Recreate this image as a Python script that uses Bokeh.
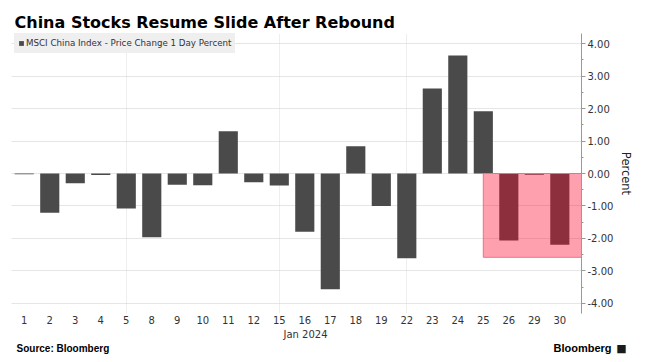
from bokeh.plotting import figure
from bokeh.layouts import column
from bokeh.models import (Range1d, FixedTicker, SingleIntervalTicker, NumeralTickFormatter,
                          Label, Legend, LegendItem, ColumnDataSource, Title)
from bokeh.embed import file_html
from bokeh.resources import INLINE

# ---- data ----
days = ["1", "2", "3", "4", "5", "8", "9", "10", "11", "12", "15", "16", "17", "18",
        "19", "22", "23", "24", "25", "26", "29", "30"]
values = [-0.02, -1.21, -0.30, -0.05, -1.08, -1.96, -0.35, -0.36, 1.30, -0.27, -0.37,
          -1.79, -3.56, 0.84, -1.00, -2.61, 2.62, 3.63, 1.92, -2.06, -0.04, -2.19]
grid_days = ["5", "15", "22"]
highlight_from = "25"
highlight_low = -2.58
series_name = "MSCI China Index - Price Change 1 Day Percent"
title_text = "China Stocks Resume Slide After Rebound"
month_label = "Jan 2024"
source_text = "Source: Bloomberg"
brand_text = "Bloomberg"

idx = list(range(len(days)))
src = ColumnDataSource(dict(x=idx, top=values))

W = 639
X_END = 21.85
p = figure(width=W, height=341, x_range=Range1d(-0.5, X_END), y_range=Range1d(-4.31, 4.31),
           output_backend="svg", toolbar_location=None, y_axis_location="right",
           min_border_left=11, min_border_right=58, min_border_top=33, min_border_bottom=28)
p.outline_line_color = None
p.background_fill_color = "white"

bars = p.vbar(x="x", top="top", bottom=0, width=0.75, source=src,
              fill_color="#4a4a4a", line_color=None)

# highlight box
hx = days.index(highlight_from)
p.quad(left=[hx], right=[X_END], bottom=[highlight_low], top=[0],
       fill_color="#ff062a", fill_alpha=0.38, line_color="#ee7088", line_width=1)

# x axis
xa = p.xaxis[0]
xa.ticker = FixedTicker(ticks=idx)
xa.major_label_overrides = {i: d for i, d in enumerate(days)}
xa.axis_line_color = None
xa.major_tick_line_color = None
xa.minor_tick_line_color = None
xa.major_tick_out = 0
xa.major_tick_in = 0
xa.minor_tick_out = 0
xa.major_label_standoff = 2
xa.major_label_text_font = "DejaVu Sans"
xa.major_label_text_font_size = "10px"
xa.major_label_text_color = "#333333"

# y axis
ya = p.yaxis[0]
ya.ticker = SingleIntervalTicker(interval=1, num_minor_ticks=2)
ya.formatter = NumeralTickFormatter(format="0.00")
ya.axis_line_color = "#999999"
ya.major_tick_line_color = "#999999"
ya.minor_tick_line_color = "#999999"
ya.major_tick_out = 4
ya.major_tick_in = 0
ya.minor_tick_out = 2
ya.minor_tick_in = 0
ya.major_label_standoff = 2
ya.major_label_text_font = "DejaVu Sans"
ya.major_label_text_font_size = "10px"
ya.major_label_text_color = "#333333"
ya.axis_label = "Percent"
ya.axis_label_text_font = "DejaVu Sans"
ya.axis_label_text_font_size = "11.5px"
ya.axis_label_text_font_style = "normal"
ya.axis_label_text_color = "#222222"
ya.axis_label_standoff = 3

# grids
p.ygrid.grid_line_color = "#cccccc"
p.ygrid.grid_line_dash = "1 1"
p.xgrid.ticker = FixedTicker(ticks=[days.index(d) for d in grid_days])
p.xgrid.grid_line_color = "#dddddd"
p.xgrid.grid_line_dash = "1 1"

# legend
legend = Legend(items=[LegendItem(label=series_name, renderers=[bars])], location=(3, 260))
legend.margin = 0
legend.padding = 4
legend.spacing = 0
legend.label_height = 12
legend.glyph_height = 6
legend.glyph_width = 6
legend.label_standoff = 2
legend.label_text_font = "DejaVu Sans"
legend.label_text_font_size = "8.7px"
legend.label_text_color = "#333333"
legend.background_fill_color = "#efefef"
legend.background_fill_alpha = 1
legend.border_line_alpha = 0
p.add_layout(legend)

# title (above)
p.title.text = title_text
p.title.align = "left"
p.title.offset = 3
p.title.text_font = "DejaVu Sans"
p.title.text_font_style = "bold"
p.title.text_font_size = "16px"
p.title.text_color = "#000000"
p.title.standoff = 4

# month label (below the tick labels)
p.add_layout(Title(text=month_label, align="left", offset=272, text_font="DejaVu Sans",
                   text_font_size="10px", text_font_style="normal", text_color="#333333",
                   standoff=0), "below")

# footer strip (its frame is laid out 11px in from the left edge)
FW = 628
f = figure(frame_width=FW, frame_height=13, x_range=Range1d(0, FW), y_range=Range1d(0, 13),
           output_backend="svg", toolbar_location=None,
           x_axis_location=None, y_axis_location=None,
           min_border=0, min_border_left=0, min_border_right=0, min_border_top=0,
           min_border_bottom=0)
f.outline_line_color = None
f.grid.visible = False
f.add_layout(Label(x=5, y=6.5, x_units="data", y_units="data", text=source_text,
                   text_font="Liberation Sans", text_font_style="bold", text_font_size="10px",
                   text_color="#000000", text_baseline="middle"))
f.add_layout(Label(x=600, y=6.5, x_units="data", y_units="data", text=brand_text,
                   text_font="Liberation Sans", text_font_style="bold", text_font_size="11px",
                   text_color="#000000", text_align="right", text_baseline="middle"))
f.add_layout(Label(x=610, y=6.5, x_units="data", y_units="data", text="\u25a0",
                   text_font="DejaVu Sans", text_font_size="11px", text_color="#1a1a1a",
                   text_align="center", text_baseline="middle"))

layout = column(p, f, spacing=0)
open("out.html", "w").write(file_html(layout, INLINE))
